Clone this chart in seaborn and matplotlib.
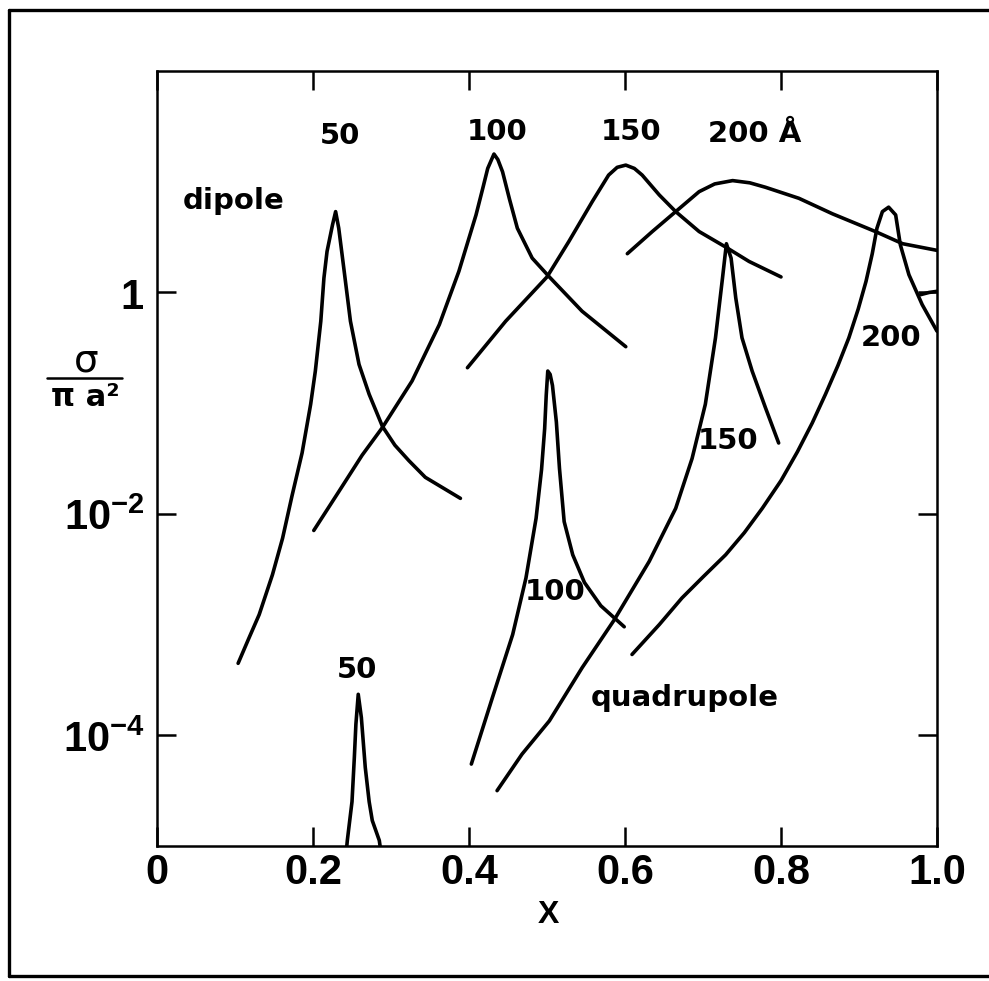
import numpy as np
import pandas as pd
import matplotlib
matplotlib.use("Agg")
import matplotlib.pyplot as plt
from matplotlib.lines import Line2D
import seaborn as sns

# ---- curve data: X and log10(sigma / pi a^2) ----
dip50_x = [0.104, 0.118, 0.131, 0.148, 0.161, 0.173, 0.186, 0.197, 0.203, 0.210,
           0.214, 0.218, 0.225, 0.229, 0.233, 0.240, 0.248, 0.259, 0.272, 0.289, 0.305,
           0.323, 0.344, 0.389]
dip50_log = [-3.35, -3.12, -2.91, -2.55, -2.22, -1.84, -1.45, -1.01, -0.71, -0.26,
             0.13, 0.37, 0.61, 0.73, 0.58, 0.19, -0.26, -0.65, -0.92, -1.21, -1.38,
             -1.52, -1.67, -1.86]

dip100_x = [0.201, 0.233, 0.263, 0.289, 0.327, 0.362, 0.387, 0.409, 0.418, 0.424, 0.432,
            0.437, 0.443, 0.452, 0.462, 0.481, 0.503, 0.545, 0.601]
dip100_log = [-2.15, -1.80, -1.47, -1.22, -0.80, -0.29, 0.19, 0.70, 0.95, 1.12, 1.25,
              1.20, 1.09, 0.84, 0.58, 0.31, 0.14, -0.17, -0.49]

dip150_x = [0.398, 0.447, 0.500, 0.528, 0.558, 0.579, 0.590, 0.601, 0.612, 0.622, 0.644,
            0.665, 0.695, 0.729, 0.759, 0.800]
dip150_log = [-0.68, -0.26, 0.14, 0.46, 0.82, 1.06, 1.13, 1.15, 1.12, 1.06, 0.88,
              0.73, 0.55, 0.41, 0.28, 0.14]

dip200_x = [0.603, 0.635, 0.665, 0.695, 0.715, 0.738, 0.760, 0.780, 0.823, 0.866, 0.921,
            0.956, 1.0]
dip200_log = [0.35, 0.55, 0.73, 0.91, 0.98, 1.01, 0.99, 0.95, 0.85, 0.71, 0.55,
              0.44, 0.38]

quad50_x = [0.242, 0.244, 0.250, 0.253, 0.255, 0.258, 0.262, 0.267, 0.272, 0.276, 0.285,
            0.288]
quad50_log = [-5.10, -4.95, -4.60, -4.20, -3.90, -3.63, -3.84, -4.29, -4.60, -4.77, -4.95,
              -5.10]

quad100_x = [0.403, 0.430, 0.456, 0.473, 0.486, 0.493, 0.497, 0.499, 0.501, 0.504, 0.507,
             0.512, 0.516, 0.522, 0.533, 0.548, 0.569, 0.599]
quad100_log = [-4.26, -3.66, -3.09, -2.58, -2.04, -1.60, -1.23, -0.93, -0.71, -0.74, -0.84,
               -1.17, -1.59, -2.07, -2.37, -2.62, -2.83, -3.02]

quad150_x = [0.436, 0.468, 0.503, 0.545, 0.586, 0.631, 0.665, 0.686, 0.703, 0.716, 0.725,
             0.730, 0.736, 0.742, 0.750, 0.763, 0.780, 0.797]
quad150_log = [-4.50, -4.17, -3.87, -3.39, -2.96, -2.43, -1.95, -1.50, -1.01, -0.41, 0.13,
               0.44, 0.31, -0.05, -0.41, -0.71, -1.04, -1.36]

quad200_x = [0.609, 0.644, 0.673, 0.700, 0.729, 0.753, 0.776, 0.800, 0.821, 0.840, 0.857,
             0.873, 0.887, 0.899, 0.909, 0.917, 0.923, 0.930, 0.938, 0.947, 0.953, 0.964,
             0.981, 1.0]
quad200_log = [-3.27, -3.00, -2.76, -2.57, -2.37, -2.17, -1.95, -1.70, -1.44, -1.18, -0.92,
               -0.66, -0.41, -0.15, 0.10, 0.35, 0.58, 0.73, 0.77, 0.70, 0.43, 0.16,
               -0.11, -0.35]

tail_x = [0.979, 0.990, 1.0]
tail_log = [-0.02, 0.0, 0.01]

curves = {
    "dipole 50": (dip50_x, dip50_log),
    "dipole 100": (dip100_x, dip100_log),
    "dipole 150": (dip150_x, dip150_log),
    "dipole 200": (dip200_x, dip200_log),
    "quadrupole 50": (quad50_x, quad50_log),
    "quadrupole 100": (quad100_x, quad100_log),
    "quadrupole 150": (quad150_x, quad150_log),
    "quadrupole 200": (quad200_x, quad200_log),
    "quadrupole 200b": (tail_x, tail_log),
}

x_ticks = [0, 0.2, 0.4, 0.6, 0.8, 1.0]
x_ticklabels = ["0", "0.2", "0.4", "0.6", "0.8", "1.0"]
y_ticks = [1e-4, 1e-2, 1]
y_ticklabels = [r"$\mathbf{10^{-4}}$", r"$\mathbf{10^{-2}}$", r"$\mathbf{1}$"]

frames = []
for name, (xs, ls) in curves.items():
    frames.append(pd.DataFrame({"x": xs, "sigma": np.power(10.0, ls), "curve": name}))
df = pd.concat(frames, ignore_index=True)

sns.set_style("ticks")
plt.rcParams["font.family"] = ["DejaVu Sans"]
plt.rcParams["font.weight"] = "bold"
plt.rcParams["mathtext.fontset"] = "custom"
plt.rcParams["mathtext.rm"] = "Liberation Sans"
plt.rcParams["mathtext.bf"] = "Liberation Sans:bold"
for key in ["text.color", "axes.labelcolor", "xtick.color", "ytick.color", "axes.edgecolor"]:
    plt.rcParams[key] = "black"

W, H = 989, 981
fig = plt.figure(figsize=(W / 100, H / 100), dpi=100)
ax = fig.add_axes([157 / W, (H - 846) / H, 780 / W, 775 / H])

sns.lineplot(data=df, x="x", y="sigma", units="curve", estimator=None, sort=False,
             color="black", lw=2.6, ax=ax, legend=False)

ax.set_yscale("log")
ax.set_xlim(0, 1.0)
ax.set_ylim(1e-5, 1e2)
ax.minorticks_off()
ax.set_xticks(x_ticks)
ax.set_xticklabels(x_ticklabels, fontsize=30, fontweight="bold", family="Liberation Sans")
ax.set_yticks(y_ticks)
ax.set_yticklabels(y_ticklabels, fontsize=30)
ax.tick_params(axis="both", which="major", direction="in", length=14, width=1.8,
               top=True, right=True)
ax.tick_params(axis="x", pad=5)
ax.tick_params(axis="y", pad=9)
for s in ax.spines.values():
    s.set_linewidth(1.8)
ax.set_xlabel("")
ax.set_ylabel("")
fig.text(548 / W, 1 - 915 / H, "X", fontsize=23, fontweight="bold",
         family="Liberation Sans", ha="center", va="center")

# sigma / pi a^2 axis label, drawn as a stacked fraction
fig.text(86 / W, 1 - 360 / H, "σ", fontsize=28, fontweight="normal",
         ha="center", va="center")
fig.add_artist(Line2D([47 / W, 122 / W], [1 - 378 / H, 1 - 378 / H], color="black", lw=1.8))
fig.text(85 / W, 1 - 397 / H, "π a²", fontsize=22, fontweight="bold",
         ha="center", va="center")

lab = dict(fontsize=21, fontweight="bold", ha="center", va="center")
ax.text(0.235, 10 ** 1.41, "50", **lab)
ax.text(0.436, 10 ** 1.45, "100", **lab)
ax.text(0.608, 10 ** 1.45, "150", **lab)
ax.text(0.766, 10 ** 1.43, "200 Å", **lab)
ax.text(0.098, 10 ** 0.83, "dipole", **lab)
ax.text(0.256, 10 ** -3.41, "50", **lab)
ax.text(0.510, 10 ** -2.71, "100", **lab)
ax.text(0.732, 10 ** -1.34, "150", **lab)
ax.text(0.941, 10 ** -0.41, "200", **lab)
ax.text(0.676, 10 ** -3.66, "quadrupole", **lab)

# outer border (left, top, bottom)
bw = 2.4
fig.add_artist(Line2D([9 / W, 9 / W], [1 - 10 / H, 1 - 976 / H], color="black", lw=bw))
fig.add_artist(Line2D([9 / W, 1.0], [1 - 10 / H, 1 - 10 / H], color="black", lw=bw))
fig.add_artist(Line2D([9 / W, 1.0], [1 - 976 / H, 1 - 976 / H], color="black", lw=bw))

fig.savefig("out.png", dpi=100)
